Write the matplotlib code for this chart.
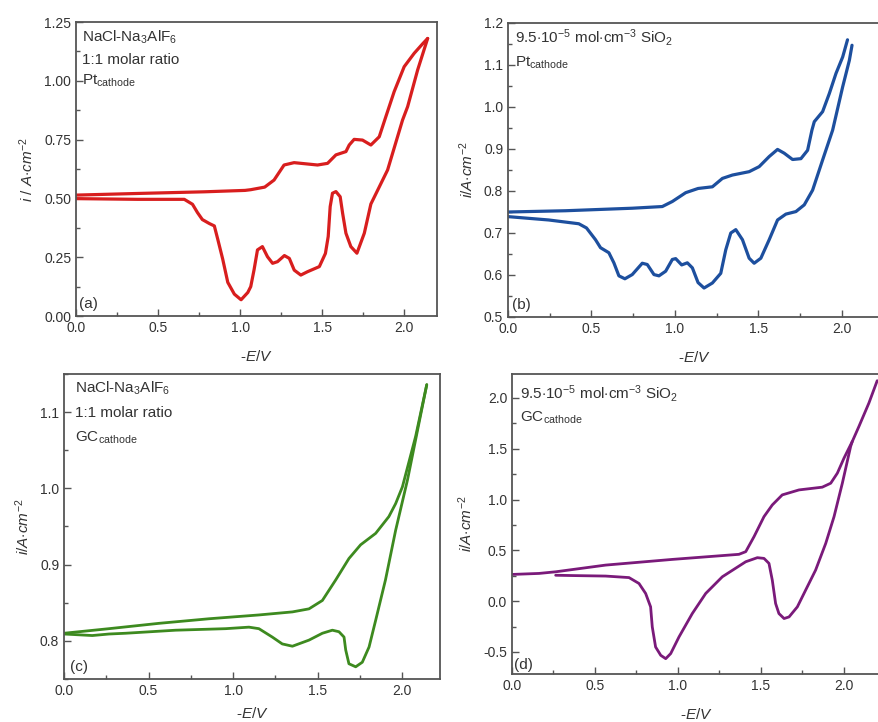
import matplotlib
matplotlib.use("Agg")
import matplotlib.pyplot as plt
from matplotlib.ticker import MultipleLocator, FormatStrFormatter

plt.rcParams["font.family"] = ["Liberation Sans", "DejaVu Sans"]
plt.rcParams["mathtext.fontset"] = "custom"
plt.rcParams["mathtext.rm"] = "Liberation Sans"
plt.rcParams["mathtext.it"] = "Liberation Sans:italic"
plt.rcParams["lines.solid_joinstyle"] = "round"
plt.rcParams["lines.solid_capstyle"] = "round"

# ─── Cyclic voltammograms: forward and reverse sweeps ─────────────────────────

# (a) NaCl-Na3AlF6, Pt cathode
e_a_fwd = [0, 0.376, 0.78, 1.03, 1.065, 1.15, 1.207, 1.268, 1.329, 1.472, 1.533,
           1.584, 1.645, 1.665, 1.695, 1.746, 1.797, 1.848, 1.888, 1.939, 2.0,
           2.061, 2.112, 2.143]
i_a_fwd = [0.514, 0.521, 0.528, 0.534, 0.537, 0.548, 0.578, 0.642, 0.652, 0.642,
           0.649, 0.685, 0.699, 0.727, 0.751, 0.748, 0.727, 0.762, 0.847, 0.954,
           1.06, 1.117, 1.157, 1.18]
e_a_rev = [2.143, 2.082, 2.021, 1.99, 1.899, 1.797, 1.757, 1.712, 1.675, 1.645,
           1.625, 1.61, 1.584, 1.563, 1.549, 1.537, 1.52, 1.483, 1.41, 1.37, 1.33,
           1.30, 1.27, 1.228, 1.198, 1.167, 1.136, 1.106, 1.085, 1.065, 1.047,
           1.006, 0.965, 0.925, 0.894, 0.864, 0.843, 0.813, 0.77, 0.74, 0.71,
           0.66, 0.376, 0]
i_a_rev = [1.18, 1.046, 0.89, 0.833, 0.621, 0.476, 0.352, 0.267, 0.295, 0.352,
           0.436, 0.507, 0.529, 0.522, 0.465, 0.338, 0.266, 0.21, 0.188, 0.174,
           0.195, 0.245, 0.257, 0.231, 0.224, 0.252, 0.295, 0.281, 0.196, 0.125,
           0.10, 0.069, 0.093, 0.143, 0.242, 0.326, 0.383, 0.393, 0.41, 0.44,
           0.475, 0.496, 0.496, 0.499]

# (b) with SiO2, Pt cathode
e_b_fwd = [0, 0.344, 0.744, 0.924, 0.984, 1.064, 1.138, 1.224, 1.284, 1.344,
           1.444, 1.504, 1.564, 1.614, 1.654, 1.704, 1.754, 1.794, 1.82, 1.834,
           1.884, 1.924, 1.964, 2.004, 2.033]
i_b_fwd = [0.75, 0.753, 0.759, 0.763, 0.775, 0.796, 0.806, 0.81, 0.83, 0.838,
           0.846, 0.858, 0.882, 0.899, 0.89, 0.875, 0.877, 0.897, 0.945, 0.965,
           0.989, 1.032, 1.08, 1.119, 1.16]
e_b_rev = [2.06, 2.044, 2.004, 1.944, 1.884, 1.824, 1.774, 1.724, 1.664, 1.614,
           1.564, 1.514, 1.474, 1.444, 1.404, 1.364, 1.334, 1.304, 1.274, 1.224,
           1.174, 1.138, 1.104, 1.074, 1.04, 1.004, 0.984, 0.944, 0.904, 0.874,
           0.834, 0.804, 0.744, 0.70, 0.664, 0.634, 0.604, 0.554, 0.524, 0.47,
           0.424, 0.244, 0]
i_b_rev = [1.147, 1.111, 1.048, 0.945, 0.874, 0.802, 0.767, 0.751, 0.745, 0.731,
           0.684, 0.64, 0.628, 0.64, 0.684, 0.708, 0.70, 0.66, 0.604, 0.581,
           0.569, 0.582, 0.617, 0.629, 0.624, 0.639, 0.637, 0.609, 0.598, 0.601,
           0.625, 0.628, 0.601, 0.591, 0.598, 0.629, 0.653, 0.665, 0.684, 0.712,
           0.722, 0.731, 0.739]

# (c) NaCl-Na3AlF6, GC cathode
e_c_fwd = [0, 0.266, 0.561, 0.857, 1.152, 1.35, 1.448, 1.527, 1.606, 1.684,
           1.753, 1.842, 1.92, 1.96, 2.0, 2.078, 2.144]
i_c_fwd = [0.81, 0.816, 0.823, 0.829, 0.834, 0.838, 0.842, 0.853, 0.88, 0.908,
           0.926, 0.941, 0.963, 0.98, 1.002, 1.068, 1.136]
e_c_rev = [2.144, 2.03, 1.96, 1.90, 1.842, 1.803, 1.763, 1.724, 1.684, 1.665,
           1.655, 1.625, 1.586, 1.527, 1.448, 1.35, 1.29, 1.231, 1.152, 1.093,
           0.955, 0.66, 0.364, 0.266, 0.167, 0]
i_c_rev = [1.136, 1.011, 0.945, 0.88, 0.827, 0.792, 0.772, 0.766, 0.77, 0.788,
           0.805, 0.812, 0.814, 0.81, 0.801, 0.793, 0.796, 0.805, 0.816, 0.818,
           0.816, 0.814, 0.81, 0.809, 0.807, 0.809]

# (d) with SiO2, GC cathode
e_d_fwd = [0, 0.163, 0.263, 0.564, 0.966, 1.367, 1.408, 1.458, 1.518, 1.568,
           1.628, 1.729, 1.869, 1.92, 1.96, 2.0, 2.03, 2.05, 2.09, 2.15, 2.2]
i_d_fwd = [0.263, 0.273, 0.289, 0.355, 0.411, 0.461, 0.487, 0.635, 0.832, 0.947,
           1.046, 1.095, 1.122, 1.161, 1.26, 1.408, 1.507, 1.572, 1.72, 1.95, 2.17]
e_d_rev = [2.05, 2.04, 1.99, 1.94, 1.89, 1.829, 1.769, 1.719, 1.669, 1.639, 1.608,
           1.588, 1.568, 1.548, 1.518, 1.478, 1.408, 1.267, 1.167, 1.086, 1.006,
           0.956, 0.926, 0.896, 0.865, 0.845, 0.835, 0.805, 0.765, 0.705, 0.564,
           0.363, 0.263]
i_d_rev = [1.572, 1.523, 1.161, 0.832, 0.569, 0.306, 0.109, -0.056, -0.155, -0.171,
           -0.122, -0.023, 0.207, 0.372, 0.421, 0.428, 0.388, 0.24, 0.076, -0.122,
           -0.352, -0.516, -0.566, -0.533, -0.451, -0.253, -0.056, 0.076, 0.174,
           0.232, 0.247, 0.252, 0.255]

W, H = 879, 722
fig = plt.figure(figsize=(W / 100, H / 100), dpi=100)


def px_axes(left, top, right, bottom):
    return fig.add_axes([left / W, 1 - bottom / H, (right - left) / W, (bottom - top) / H])


def style(ax, xmax, ylim, ymaj, ymin, yfmt, ylabel, xpad=10):
    ax.set_xlim(0, xmax)
    ax.set_ylim(*ylim)
    ax.xaxis.set_major_locator(MultipleLocator(0.5))
    ax.xaxis.set_minor_locator(MultipleLocator(0.25))
    ax.yaxis.set_major_locator(MultipleLocator(ymaj))
    ax.yaxis.set_minor_locator(MultipleLocator(ymin))
    ax.xaxis.set_major_formatter(FormatStrFormatter("%.1f"))
    ax.yaxis.set_major_formatter(FormatStrFormatter(yfmt))
    ax.tick_params(which="both", direction="in", colors="#555555", labelcolor="#333333",
                   labelsize=10, width=1.0)
    ax.tick_params(which="major", length=5)
    ax.tick_params(which="minor", length=3)
    for s in ax.spines.values():
        s.set_color("#555555")
        s.set_linewidth(1.3)
    ax.set_xlabel(r"-$E$/$V$", fontsize=11, color="#333333", labelpad=xpad)
    ax.set_ylabel(ylabel, fontsize=11, color="#333333", labelpad=6)


def label(x, y, s, size=11):
    fig.text(x / W, 1 - y / H, s, fontsize=size, color="#333333", va="center", ha="left")


# (a)
ax = px_axes(76, 22, 437, 316)
ax.plot(e_a_fwd, i_a_fwd, color="#d81e1e", lw=2.3)
ax.plot(e_a_rev, i_a_rev, color="#d81e1e", lw=2.3)
style(ax, 2.2, (0, 1.25), 0.25, 0.125, "%.2f", r"$i$ / $A$$\cdot$$cm^{-2}$")
label(82, 37, r"NaCl-Na$_{3}$AlF$_{6}$")
label(82, 60, "1:1 molar ratio")
label(82, 81, r"Pt$_{\mathregular{cathode}}$")
label(79, 304, "(a)")

# (b)
ax = px_axes(508, 23, 881, 317)
ax.plot(e_b_fwd, i_b_fwd, color="#1d4f9e", lw=2.3)
ax.plot(e_b_rev, i_b_rev, color="#1d4f9e", lw=2.3)
style(ax, (881 - 508) / 167, (0.5, 1.2), 0.1, 0.05, "%.1f", r"$i$/$A$$\cdot$$cm^{-2}$")
label(515, 37, r"9.5$\cdot$10$^{-5}$ mol$\cdot$cm$^{-3}$ SiO$_{2}$")
label(515, 63, r"Pt$_{\mathregular{cathode}}$")
label(512, 305, "(b)")

# (c)
ax = px_axes(64, 374, 440, 679)
ax.plot(e_c_fwd, i_c_fwd, color="#3d8a1f", lw=2.0)
ax.plot(e_c_rev, i_c_rev, color="#3d8a1f", lw=2.0)
style(ax, (440 - 64) / 169.2, (0.75, 1.15), 0.1, 0.05, "%.1f", r"$i$/$A$$\cdot$$cm^{-2}$",
      xpad=6)
label(75, 388, r"NaCl-Na$_{3}$AlF$_{6}$")
label(75, 413, "1:1 molar ratio")
label(75, 438, r"GC$_{\mathregular{cathode}}$")
label(70, 667, "(c)")

# (d)
ax = px_axes(512, 374, 881, 674)
ax.plot(e_d_fwd, i_d_fwd, color="#7a1a7a", lw=2.0)
ax.plot(e_d_rev, i_d_rev, color="#7a1a7a", lw=2.0)
style(ax, (881 - 512) / 166.0, (-0.717, 2.236), 0.5, 0.25, "%.1f", r"$i$/$A$$\cdot$$cm^{-2}$",
      xpad=10)
label(520, 393, r"9.5$\cdot$10$^{-5}$ mol$\cdot$cm$^{-3}$ SiO$_{2}$")
label(520, 418, r"GC$_{\mathregular{cathode}}$")
label(514, 665, "(d)")

fig.savefig("out.png", dpi=100)
